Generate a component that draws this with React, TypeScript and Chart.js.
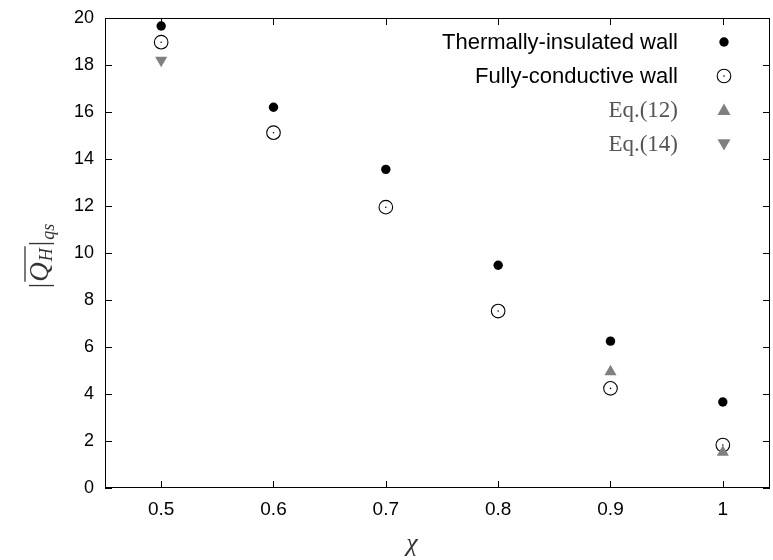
import React, { useEffect, useRef } from "react";
import { Chart, registerables } from "chart.js";

Chart.register(...registerables);

const chi = [0.5, 0.6, 0.7, 0.8, 0.9, 1.0];
const insulated = [19.66, 16.2, 13.56, 9.48, 6.25, 3.66];
const conductive = [18.97, 15.12, 11.95, 7.53, 4.24, 1.83];
const eq12Chi = [0.9, 1.0];
const eq12 = [4.95, 1.52];
const eq14Chi = [0.5];
const eq14 = [18.2];
const xTicks = [0.5, 0.6, 0.7, 0.8, 0.9, 1.0];
const xTickLabels = ["0.5", "0.6", "0.7", "0.8", "0.9", "1"];
const yTicks = [0, 2, 4, 6, 8, 10, 12, 14, 16, 18, 20];
const legendLabels = ["Thermally-insulated wall", "Fully-conductive wall", "Eq.(12)", "Eq.(14)"];

const GRAY = "#808080";

export default function App() {
  const ref = useRef<HTMLCanvasElement | null>(null);

  useEffect(() => {
    document.body.style.margin = "0";
    const canvas = ref.current!;

    const toPts = (xs: number[], ys: number[]) => xs.map((x, i) => ({ x, y: ys[i] }));

    const framePlugin = {
      id: "frame",
      afterDraw(chart: any) {
        const { ctx, chartArea } = chart;
        const { left, right, top, bottom } = chartArea;
        const xs = chart.scales.x;
        const ys = chart.scales.y;
        ctx.save();
        ctx.strokeStyle = "#000";
        ctx.lineWidth = 1;
        ctx.strokeRect(left + 0.5, top + 0.5, right - left - 1, bottom - top - 1);
        const tl = 7;
        ctx.beginPath();
        xTicks.forEach((v) => {
          const px = Math.round(xs.getPixelForValue(v)) + 0.5;
          ctx.moveTo(px, bottom);
          ctx.lineTo(px, bottom - tl);
          ctx.moveTo(px, top);
          ctx.lineTo(px, top + tl);
        });
        yTicks.forEach((v) => {
          const py = Math.round(ys.getPixelForValue(v)) + 0.5;
          ctx.moveTo(left, py);
          ctx.lineTo(left + tl, py);
          ctx.moveTo(right, py);
          ctx.lineTo(right - tl, py);
        });
        ctx.stroke();

        // legend
        const rows = [42, 76, 110, 144];
        const textX = 678;
        const markX = 724;
        ctx.textAlign = "right";
        ctx.textBaseline = "middle";
        legendLabels.forEach((lab, i) => {
          if (i < 2) {
            ctx.font = "22px 'Liberation Sans', Arial, sans-serif";
            ctx.fillStyle = "#000";
          } else {
            ctx.font = "23px 'Liberation Serif', serif";
            ctx.fillStyle = "#555";
          }
          ctx.fillText(lab, textX, rows[i] + 1);
        });
        // markers
        ctx.fillStyle = "#000";
        ctx.beginPath();
        ctx.arc(markX, rows[0], 4.7, 0, Math.PI * 2);
        ctx.fill();
        ctx.strokeStyle = "#000";
        ctx.lineWidth = 1.1;
        ctx.beginPath();
        ctx.arc(markX, rows[1], 6.8, 0, Math.PI * 2);
        ctx.stroke();
        ctx.beginPath();
        ctx.arc(markX, rows[1], 0.8, 0, Math.PI * 2);
        ctx.fill();
        ctx.fillStyle = GRAY;
        const s = 6.5;
        ctx.beginPath();
        ctx.moveTo(markX, rows[2] - s);
        ctx.lineTo(markX + s, rows[2] + s * 0.75);
        ctx.lineTo(markX - s, rows[2] + s * 0.75);
        ctx.closePath();
        ctx.fill();
        ctx.beginPath();
        ctx.moveTo(markX, rows[3] + s);
        ctx.lineTo(markX + s, rows[3] - s * 0.75);
        ctx.lineTo(markX - s, rows[3] - s * 0.75);
        ctx.closePath();
        ctx.fill();

        // x title
        ctx.fillStyle = "#333";
        ctx.textAlign = "center";
        ctx.textBaseline = "alphabetic";
        ctx.font = "italic 26px 'Liberation Serif', serif";
        ctx.fillText("χ", 412, 551);

        // y title
        ctx.translate(48, 256);
        ctx.rotate(-Math.PI / 2);
        const big = "27px 'Liberation Serif', serif";
        const bigI = "italic 27px 'Liberation Serif', serif";
        const smallI = "italic 18px 'Liberation Serif', serif";
        const parts: { t: string; f: string; dy: number; gap: number }[] = [
          { t: "|", f: big, dy: 0, gap: 1 },
          { t: "Q", f: bigI, dy: 0, gap: 1 },
          { t: "H", f: smallI, dy: 4, gap: 2 },
          { t: "|", f: big, dy: 0, gap: 1 },
          { t: "qs", f: smallI, dy: 6, gap: 0 },
        ];
        let total = 0;
        const widths = parts.map((p) => {
          ctx.font = p.f;
          const w = ctx.measureText(p.t).width + p.gap;
          total += w;
          return w;
        });
        let x = -total / 2;
        ctx.textAlign = "left";
        let olStart = 0;
        let olEnd = 0;
        parts.forEach((p, i) => {
          ctx.font = p.f;
          if (i === 1) olStart = x;
          ctx.fillText(p.t, x, p.dy);
          x += widths[i];
          if (i === 2) olEnd = x;
        });
        ctx.strokeStyle = "#333";
        ctx.lineWidth = 1.3;
        ctx.beginPath();
        ctx.moveTo(olStart, -23);
        ctx.lineTo(olEnd, -23);
        ctx.stroke();
        ctx.restore();
      },
    };

    const chart = new Chart(canvas, {
      type: "scatter",
      data: {
        datasets: [
          {
            label: legendLabels[0],
            data: toPts(chi, insulated),
            pointStyle: "circle",
            pointRadius: 4.7,
            backgroundColor: "#000",
            borderColor: "#000",
            borderWidth: 0,
            order: 4,
          },
          {
            label: legendLabels[1],
            data: toPts(chi, conductive),
            pointStyle: "circle",
            pointRadius: 6.8,
            backgroundColor: "rgba(0,0,0,0)",
            borderColor: "#000",
            borderWidth: 1.1,
            order: 3,
          },
          {
            label: legendLabels[1] + " (centre)",
            data: toPts(chi, conductive),
            pointStyle: "circle",
            pointRadius: 0.8,
            backgroundColor: "#000",
            borderColor: "#000",
            borderWidth: 0,
            order: 2,
          },
          {
            label: legendLabels[2],
            data: toPts(eq12Chi, eq12),
            pointStyle: "triangle",
            pointRadius: 7,
            backgroundColor: GRAY,
            borderColor: GRAY,
            borderWidth: 0,
            order: 0,
          },
          {
            label: legendLabels[3],
            data: toPts(eq14Chi, eq14),
            pointStyle: "triangle",
            rotation: 180,
            pointRadius: 7,
            backgroundColor: GRAY,
            borderColor: GRAY,
            borderWidth: 0,
            order: 1,
          },
        ] as any,
      },
      options: {
        animation: false,
        responsive: false,
        devicePixelRatio: 1,
        layout: { autoPadding: false, padding: { left: 0, top: 18, right: 3, bottom: 0 } },
        plugins: { legend: { display: false }, tooltip: { enabled: false } },
        scales: {
          x: {
            type: "linear",
            min: 0.45,
            max: 1.042,
            grid: { display: false, drawTicks: false },
            border: { display: false },
            afterBuildTicks: (scale: any) => {
              scale.ticks = xTicks.map((v) => ({ value: v }));
            },
            afterFit: (scale: any) => {
              scale.height = 72;
              scale.paddingLeft = 0;
              scale.paddingRight = 0;
            },
            ticks: {
              padding: 10,
              color: "#000",
              font: { family: "'Liberation Sans', Arial, sans-serif", size: 19 },
              maxRotation: 0,
              callback: (v: any) => {
                const i = xTicks.findIndex((t) => Math.abs(t - Number(v)) < 1e-6);
                return i >= 0 ? xTickLabels[i] : "";
              },
            },
          },
          y: {
            type: "linear",
            min: 0,
            max: 20,
            grid: { display: false, drawTicks: false },
            border: { display: false },
            afterBuildTicks: (scale: any) => {
              scale.ticks = yTicks.map((v) => ({ value: v }));
            },
            afterFit: (scale: any) => {
              scale.width = 105;
              scale.paddingTop = 0;
              scale.paddingBottom = 0;
            },
            ticks: {
              padding: 11,
              color: "#000",
              font: { family: "'Liberation Sans', Arial, sans-serif", size: 18 },
              callback: (v: any) => String(v),
            },
          },
        },
      },
      plugins: [framePlugin],
    });

    return () => chart.destroy();
  }, []);

  return (
    <div style={{ width: 773, height: 560 }}>
      <canvas ref={ref} width={773} height={560} style={{ width: 773, height: 560, display: "block" }} />
    </div>
  );
}
